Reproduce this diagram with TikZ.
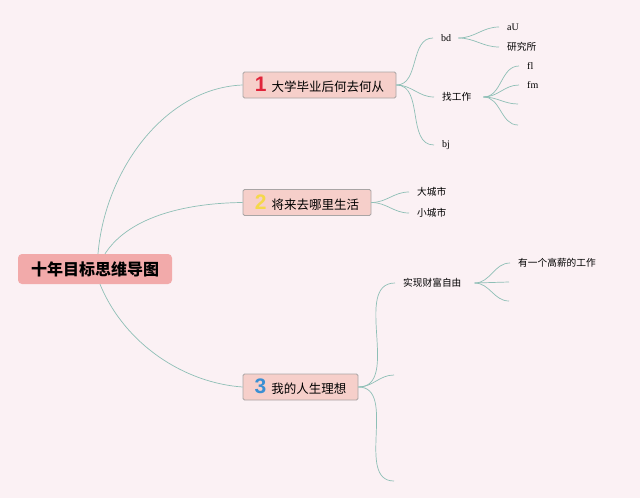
\documentclass[tikz,border=0pt]{standalone}
\usepackage{fontspec}
\setmainfont{Noto Sans CJK SC}
\newfontfamily\latserif{Liberation Serif}
\newfontfamily\numfont{Liberation Sans}
\definecolor{bgc}{HTML}{FBF1F4}
\definecolor{rootfill}{HTML}{F2AAAA}
\definecolor{boxfill}{HTML}{F6CFCA}
\definecolor{boxdraw}{HTML}{A9A5A5}
\definecolor{linec}{HTML}{8EBFB6}
\definecolor{numred}{HTML}{E0243A}
\definecolor{numyellow}{HTML}{F5D84A}
\definecolor{numblue}{HTML}{3A8FD3}
\tikzset{
  rootbox/.style={fill=rootfill, rounded corners=4pt, minimum width=154pt, minimum height=30pt, inner sep=0pt, font=\fontsize{16}{18}\selectfont\bfseries},
  mainbox/.style={fill=boxfill, draw=boxdraw, line width=0.8pt, rounded corners=1.5pt, minimum height=26pt, inner sep=0pt, font=\fontsize{12.5}{14}\selectfont},
  leaf/.style={anchor=west, inner xsep=8pt, inner ysep=1pt, font=\fontsize{9.7}{11}\selectfont},
  latleaf/.style={leaf, font=\fontsize{10}{11}\latserif},
  conn/.style={draw=linec, line width=0.7pt}
}
\newcommand{\bignum}[2]{{\fontsize{21}{21}\numfont\bfseries\color{#1}#2}}
\begin{document}
\begin{tikzpicture}[x=1pt,y=-1pt]
\fill[bgc] (0,0) rectangle (640,498);
\useasboundingbox (0,0) rectangle (640,498);

% root
\node[rootbox] (root) at (95,269) {十年目标思维导图};

% main nodes
\node[mainbox, minimum width=153pt] (m1) at (319.5,85) {\bignum{numred}{1}\hspace{5pt}大学毕业后何去何从};
\node[mainbox, minimum width=128pt] (m2) at (307,202.5) {\bignum{numyellow}{2}\hspace{5pt}将来去哪里生活};
\node[mainbox, minimum width=115pt] (m3) at (300.5,387) {\bignum{numblue}{3}\hspace{5pt}我的人生理想};

% root connectors
\coordinate (r1) at ([xshift=3pt]root.north);
\coordinate (r2) at ([xshift=10pt]root.north);
\coordinate (r3) at ([xshift=5pt]root.south);
\draw[conn] (r1) .. controls (105,170) and (165,88) .. (m1.west);
\draw[conn] (r2) .. controls (130,215) and (190,203) .. (m2.west);
\draw[conn] (r3) .. controls (125,345) and (185,383) .. (m3.west);

% branch 1
\node[latleaf] (bd) at (433,38) {bd};
\node[leaf] (job) at (434,97) {找工作};
\node[latleaf] (bj) at (434,145) {bj};
\draw[conn] (m1.east) to[out=0,in=180] (bd.west);
\draw[conn] (m1.east) to[out=0,in=180] (job.west);
\draw[conn] (m1.east) to[out=0,in=180] (bj.west);

\node[latleaf] (au) at (499,27) {aU};
\node[leaf] (yjs) at (499,47) {研究所};
\draw[conn] ([xshift=-1pt]bd.east) to[out=0,in=180] (au.west);
\draw[conn] ([xshift=-1pt]bd.east) to[out=0,in=180] (yjs.west);

\node[latleaf] (fl) at (519,66) {fl};
\node[latleaf] (fm) at (519,85) {fm};
\coordinate (j3) at (518,104);
\coordinate (j4) at (518,125);
\coordinate (jo) at ([xshift=4pt]job.east);
\draw[conn] (jo) to[out=0,in=180] (fl.west);
\draw[conn] (jo) to[out=0,in=180] (fm.west);
\draw[conn] (jo) to[out=0,in=180] (j3);
\draw[conn] (jo) to[out=0,in=180] (j4);

% branch 2
\node[leaf] (dcs) at (409,192) {大城市};
\node[leaf] (xcs) at (409,213) {小城市};
\draw[conn] (m2.east) to[out=0,in=180] (dcs.west);
\draw[conn] (m2.east) to[out=0,in=180] (xcs.west);

% branch 3
\node[leaf] (cf) at (395,283) {实现财富自由};
\coordinate (b32) at (394,375);
\coordinate (b33) at (394,481);
\draw[conn] (m3.east) to[out=0,in=180] (cf.west);
\draw[conn] (m3.east) to[out=0,in=180] (b32);
\draw[conn] (m3.east) to[out=0,in=180] (b33);

\node[leaf] (gx) at (510,263) {有一个高薪的工作};
\coordinate (c2) at (509,282);
\coordinate (c3) at (509,301);
\coordinate (co) at ([xshift=5pt]cf.east);
\draw[conn] (co) to[out=0,in=180] (gx.west);
\draw[conn] (co) -- (c2);
\draw[conn] (co) to[out=0,in=180] (c3);
\end{tikzpicture}
\end{document}
